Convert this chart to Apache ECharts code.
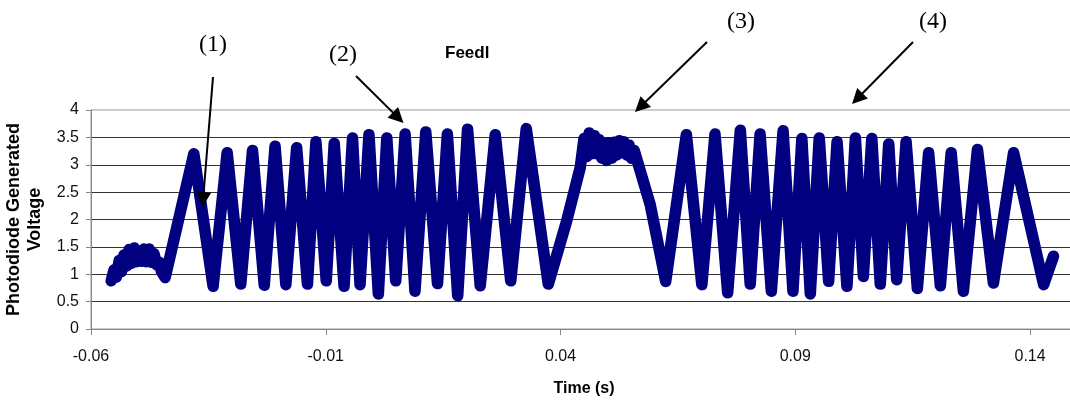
<!DOCTYPE html>
<html>
<head>
<meta charset="utf-8">
<script src="https://cdn.jsdelivr.net/npm/echarts@6/dist/echarts.min.js"></script>
<style>
  html, body { margin: 0; padding: 0; background: #fff; }
  #main { width: 1070px; height: 401px; }
</style>
</head>
<body>
<div id="main"></div>
<script>
// time (s) and voltage of the trace (turning points + noisy plateaus)
var timeValues = [
  -0.0557, -0.0551, -0.0546, -0.0540, -0.0535, -0.0530, -0.0524, -0.0519, -0.0514, -0.0508,
  -0.0503, -0.0498, -0.0492, -0.0487, -0.0482, -0.0476, -0.0471, -0.0466, -0.0460, -0.0455,
  -0.0450, -0.0442,
  -0.0381, -0.0340, -0.0310, -0.0281, -0.0256, -0.0231, -0.0208, -0.0185, -0.0162, -0.0139,
  -0.0121, -0.0099, -0.0082, -0.0061, -0.0043, -0.0027, -0.0008, 0.0012, 0.0030, 0.0049,
  0.0069, 0.0090, 0.0113, 0.0138, 0.0159, 0.0181, 0.0202, 0.0229, 0.0261, 0.0294,
  0.0327, 0.0374, 0.0413, 0.0442,
  0.0450, 0.0456, 0.0461, 0.0466, 0.0472, 0.0477, 0.0482, 0.0488, 0.0493, 0.0498,
  0.0504, 0.0509, 0.0514, 0.0520, 0.0525, 0.0530, 0.0535, 0.0541, 0.0546, 0.0551,
  0.0557, 0.0591,
  0.0624, 0.0668, 0.0701, 0.0729, 0.0756, 0.0783, 0.0804, 0.0825, 0.0849, 0.0874,
  0.0895, 0.0914, 0.0932, 0.0951, 0.0971, 0.0989, 0.1010, 0.1028, 0.1045, 0.1063,
  0.1081, 0.1099, 0.1116, 0.1136, 0.1160, 0.1184, 0.1209, 0.1232, 0.1258, 0.1288,
  0.1322, 0.1365, 0.1429, 0.1450
];
var voltageValues = [
  0.88, 1.08, 0.95, 1.25, 1.05, 1.35, 1.15, 1.45, 1.20, 1.48,
  1.23, 1.42, 1.24, 1.46, 1.23, 1.46, 1.22, 1.38, 1.17, 1.22,
  1.05, 0.94,
  3.20, 0.78, 3.22, 0.82, 3.26, 0.80, 3.34, 0.81, 3.31, 0.82,
  3.42, 0.88, 3.39, 0.78, 3.49, 0.81, 3.55, 0.64, 3.49, 0.88,
  3.56, 0.69, 3.60, 0.83, 3.56, 0.61, 3.65, 0.79, 3.55, 0.88,
  3.66, 0.82, 1.97, 2.95,
  3.48, 3.15, 3.58, 3.20, 3.53, 3.20, 3.46, 3.12, 3.40, 3.08,
  3.40, 3.12, 3.41, 3.18, 3.44, 3.22, 3.42, 3.18, 3.36, 3.12,
  3.26, 2.27,
  0.87, 3.55, 0.81, 3.56, 0.66, 3.63, 0.82, 3.56, 0.69, 3.62,
  0.69, 3.48, 0.64, 3.49, 0.87, 3.42, 0.78, 3.49, 0.96, 3.48,
  0.82, 3.38, 0.90, 3.42, 0.74, 3.22, 0.79, 3.22, 0.69, 3.28,
  0.84, 3.22, 0.81, 1.33
];
var xTickValues = [-0.06, -0.01, 0.04, 0.09, 0.14];
var annotationLabels = ['(1)', '(2)', '(3)', '(4)'];

// label centre, arrow start and arrow tip, in page pixels
var annotationLayout = [
  { text: [213, 45], from: [213, 77], to: [202.5, 207] },
  { text: [343, 55], from: [356, 76], to: [403.5, 123] },
  { text: [741, 22], from: [707, 42], to: [635, 112] },
  { text: [933, 22], from: [913, 42], to: [852, 104] }
];

var seriesData = timeValues.map(function (t, i) { return [t, voltageValues[i]]; });

function arrowGraphics(from, to) {
  var dx = to[0] - from[0], dy = to[1] - from[1];
  var d = Math.sqrt(dx * dx + dy * dy);
  var ux = dx / d, uy = dy / d;
  var len = 15, half = 7.5;
  var bx = to[0] - ux * len, by = to[1] - uy * len;
  return [
    {
      type: 'line', z: 100,
      shape: { x1: from[0], y1: from[1], x2: bx + ux * 2, y2: by + uy * 2 },
      style: { stroke: '#000', lineWidth: 2 }
    },
    {
      type: 'polygon', z: 100,
      shape: { points: [[to[0], to[1]], [bx - uy * half, by + ux * half], [bx + uy * half, by - ux * half]] },
      style: { fill: '#000' }
    }
  ];
}

var graphics = [];
annotationLayout.forEach(function (a, i) {
  graphics.push({
    type: 'text', z: 100,
    x: a.text[0], y: a.text[1],
    style: {
      text: annotationLabels[i],
      font: '24px "Liberation Serif"',
      fill: '#000',
      textAlign: 'center',
      textVerticalAlign: 'middle'
    }
  });
  graphics = graphics.concat(arrowGraphics(a.from, a.to));
});

var myChart = echarts.init(document.getElementById('main'), null, { renderer: 'canvas' });
var option = {
  animation: false,
  backgroundColor: '#fff',
  textStyle: { fontFamily: 'Liberation Sans' },
  title: {
    text: 'Feedl',
    left: 445,
    top: 45,
    padding: 0,
    textStyle: { fontSize: 17, fontWeight: 'bold', color: '#000', fontFamily: 'Liberation Sans' }
  },
  grid: {
    left: 91,
    top: 110,
    width: 986,
    height: 219,
    containLabel: false,
    outerBoundsMode: 'none',
    show: true,
    borderColor: '#999',
    borderWidth: 1,
    backgroundColor: 'transparent'
  },
  xAxis: {
    type: 'value',
    min: -0.06,
    max: 0.15,
    name: 'Time (s)',
    nameLocation: 'middle',
    nameGap: 52,
    nameTextStyle: { fontSize: 16, fontWeight: 'bold', color: '#000', lineHeight: 16 },
    axisLine: { show: true, onZero: false, lineStyle: { color: '#888', width: 1 } },
    axisTick: { show: true, length: 6, customValues: xTickValues, lineStyle: { color: '#888' } },
    axisLabel: {
      customValues: xTickValues,
      margin: 20,
      fontSize: 16,
      lineHeight: 16,
      color: '#111',
      formatter: function (v) { return v.toFixed(2); }
    },
    splitLine: { show: false }
  },
  yAxis: {
    type: 'value',
    min: 0,
    max: 4,
    interval: 0.5,
    name: 'Photodiode Generated\nVoltage',
    nameLocation: 'middle',
    nameRotate: 90,
    nameGap: 44,
    nameTextStyle: { fontSize: 18, fontWeight: 'bold', color: '#000', lineHeight: 21 },
    axisLine: { show: true, onZero: false, lineStyle: { color: '#888', width: 1 } },
    axisTick: { show: true, length: 5, lineStyle: { color: '#888' } },
    axisLabel: { margin: 12, fontSize: 16, color: '#111' },
    splitLine: {
      show: true,
      showMinLine: false,
      showMaxLine: false,
      lineStyle: { color: '#333', width: 1 }
    }
  },
  series: [
    {
      name: 'Photodiode voltage',
      type: 'line',
      data: seriesData,
      showSymbol: false,
      symbol: 'none',
      clip: false,
      lineStyle: { color: '#000080', width: 11.5, join: 'round', cap: 'round' },
      z: 5
    }
  ],
  graphic: graphics
};
myChart.setOption(option);
</script>
</body>
</html>
